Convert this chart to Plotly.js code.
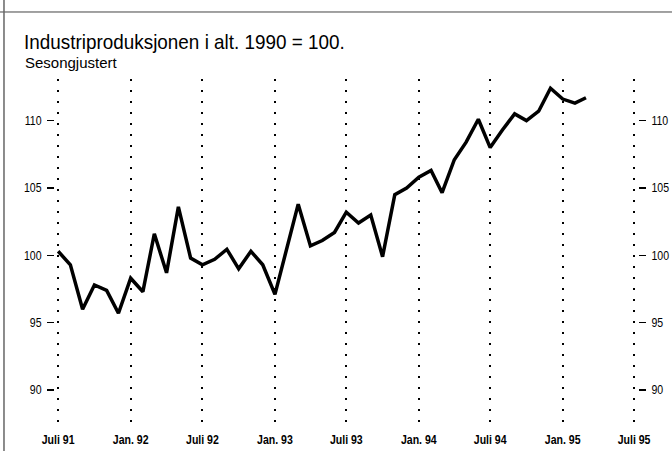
<!DOCTYPE html>
<html>
<head>
<meta charset="utf-8">
<script src="https://cdn.plot.ly/plotly-3.0.1.min.js"></script>
<style>html,body{margin:0;padding:0;background:#fff;}#chart{width:672px;height:451px;}</style>
</head>
<body>
<div id="chart"></div>
<script>
// Monthly observations, Juli 1991 - mars 1995
var months = [
  '1991-07','1991-08','1991-09','1991-10','1991-11','1991-12',
  '1992-01','1992-02','1992-03','1992-04','1992-05','1992-06',
  '1992-07','1992-08','1992-09','1992-10','1992-11','1992-12',
  '1993-01','1993-02','1993-03','1993-04','1993-05','1993-06',
  '1993-07','1993-08','1993-09','1993-10','1993-11','1993-12',
  '1994-01','1994-02','1994-03','1994-04','1994-05','1994-06',
  '1994-07','1994-08','1994-09','1994-10','1994-11','1994-12',
  '1995-01','1995-02','1995-03'
];
var industri = [
  100.3, 99.3, 96.0, 97.8, 97.4, 95.7,
  98.3, 97.3, 101.6, 98.7, 103.6, 99.8,
  99.3, 99.7, 100.45, 99.0, 100.3, 99.3,
  97.1, 100.7, 103.8, 100.7, 101.1, 101.7,
  103.2, 102.4, 103.0, 99.9, 104.5, 105.0,
  105.8, 106.3, 104.65, 107.1, 108.4, 110.1,
  108.0, 109.3, 110.5, 110.0, 110.7, 112.4,
  111.6, 111.3, 111.7
];
var xTickVals = ['1991-07-01','1992-01-01','1992-07-01','1993-01-01','1993-07-01','1994-01-01','1994-07-01','1995-01-01','1995-07-01'];
var xTickText = ['Juli 91','Jan. 92','Juli 92','Jan. 93','Juli 93','Jan. 94','Juli 94','Jan. 95','Juli 95'];
var yTickVals = [90, 95, 100, 105, 110];
var yTickText = ['90', '95', '100', '105', '110'];
var titleText = 'Industriproduksjonen i alt. 1990 = 100.';
var subtitleText = 'Sesongjustert';

var FONT = '"Liberation Sans", Arial, Helvetica, sans-serif';

var trace = {
  x: months,
  y: industri,
  type: 'scatter',
  mode: 'lines',
  line: {color: '#000', width: 3.5},
  hoverinfo: 'skip',
  showlegend: false
};
// same series on the right-hand axis (invisible) so that axis is drawn
var traceRight = {
  x: months,
  y: industri,
  yaxis: 'y2',
  type: 'scatter',
  mode: 'lines',
  opacity: 0,
  line: {color: '#000', width: 1},
  hoverinfo: 'skip',
  showlegend: false
};

var yRange = [87.33, 113.09];

var yAxisCommon = {
  range: yRange,
  tickmode: 'array',
  tickvals: yTickVals,
  ticktext: yTickText,
  ticks: 'outside',
  ticklen: 7,
  tickwidth: 1.5,
  tickcolor: '#000',
  tickfont: {family: FONT, size: 12, color: '#000'},
  showgrid: false,
  showline: false,
  zeroline: false,
  ticklabelstandoff: 3,
  fixedrange: true
};

var layout = {
  width: 672,
  height: 451,
  margin: {l: 55, r: 34, t: 79, b: 25, pad: 0},
  paper_bgcolor: '#fff',
  plot_bgcolor: '#fff',
  font: {family: FONT, color: '#000', size: 12},
  title: {
    text: titleText,
    font: {family: FONT, size: 21, color: '#000'},
    x: 24/672, xref: 'container', xanchor: 'left',
    y: 1 - 34/451, yref: 'container', yanchor: 'top',
    pad: {t: 0, l: 0, b: 0, r: 0}
  },
  annotations: [{
    text: subtitleText,
    xref: 'paper', yref: 'paper',
    x: (24 - 55) / 583, y: (426 - 53) / 347,
    xanchor: 'left', yanchor: 'top',
    showarrow: false,
    font: {family: FONT, size: 15, color: '#000'},
    borderpad: 0
  }],
  xaxis: {
    type: 'date',
    range: ['1991-06-23', '1995-07-11'],
    tickmode: 'array',
    tickvals: xTickVals,
    ticktext: xTickText,
    tickfont: {family: FONT, size: 12, color: '#000', weight: 'bold'},
    ticks: '',
    showgrid: true,
    gridcolor: '#000',
    gridwidth: 2,
    griddash: '2px,9px',
    showline: false,
    zeroline: false,
    ticklabelstandoff: 5,
    fixedrange: true
  },
  yaxis: Object.assign({}, yAxisCommon),
  yaxis2: Object.assign({}, yAxisCommon, {overlaying: 'y', side: 'right'}),
  shapes: [
    {type: 'line', xref: 'paper', yref: 'paper', x0: -0.0943, x1: 1.0583, y0: 1.1931, y1: 1.1931, line: {color: '#444', width: 1}},
    {type: 'line', xref: 'paper', yref: 'paper', x0: -0.0875, x1: -0.0875, y0: 1.2277, y1: -0.072, line: {color: '#666', width: 1.5}}
  ]
};

// narrow the glyphs horizontally around each text's own anchor point (condensed typeface look)
function condense(sel, s) {
  document.querySelectorAll(sel).forEach(function (el) {
    var x = parseFloat(el.getAttribute('x')) || 0;
    var t = el.getAttribute('transform') || '';
    el.setAttribute('transform', t + ' translate(' + x + ',0) scale(' + s + ',1) translate(' + (-x) + ',0)');
  });
}

Plotly.newPlot('chart', [trace, traceRight], layout, {displayModeBar: false, staticPlot: true}).then(function () {
  condense('#chart .gtitle', 0.9);
  condense('#chart .xtick text', 0.88);
  condense('#chart .ytick text', 0.88);
  condense('#chart .y2tick text', 0.88);
});
</script>
</body>
</html>
